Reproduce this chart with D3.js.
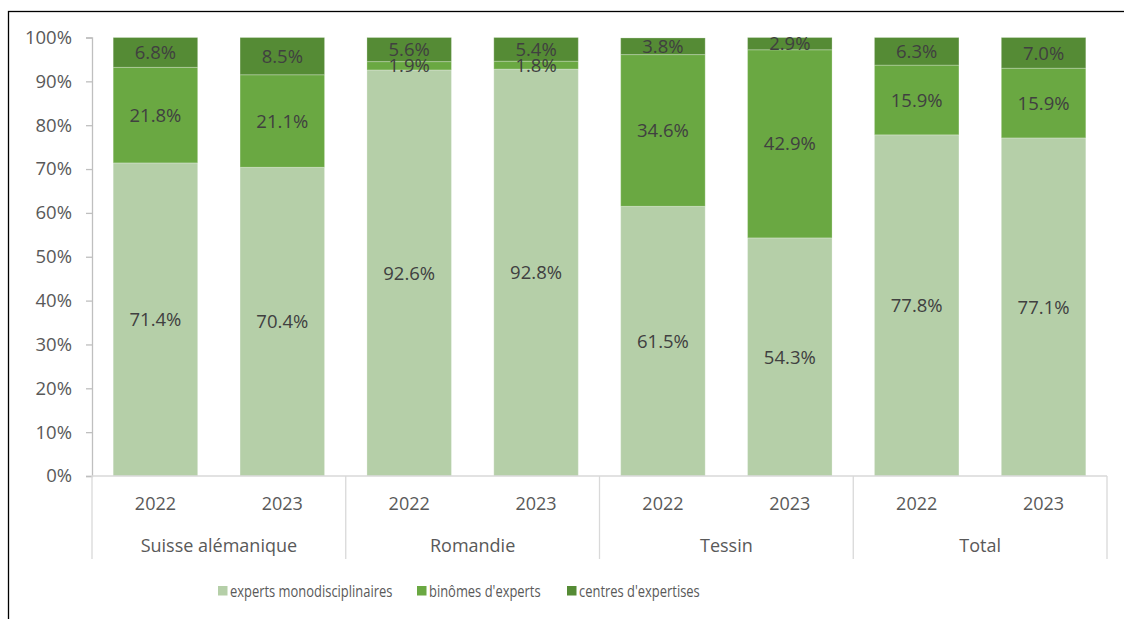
<!DOCTYPE html>
<html><head><meta charset="utf-8">
<script src="https://cdn.jsdelivr.net/npm/d3@7"></script>
<style>body{margin:0;background:#fff;font-family:"Open Sans",sans-serif;}</style>
</head><body><svg id="c" width="1124" height="619"></svg>
<script>
const groups = ["Suisse alémanique","Romandie","Tessin","Total"];
const years = ["2022","2023"];
const seriesNames = ["experts monodisciplinaires","binômes d'experts","centres d'expertises"];
const mono = [71.4,70.4,92.6,92.8,61.5,54.3,77.8,77.1];
const binomes = [21.8,21.1,1.9,1.8,34.6,42.9,15.9,15.9];
const centres = [6.8,8.5,5.6,5.4,3.8,2.9,6.3,7.0];
const yTicks = [0,10,20,30,40,50,60,70,80,90,100];
const colors = ["#b5cfa8","#6aa842","#558b35"];

const svg = d3.select("#c");
svg.append("rect").attr("x",8.5).attr("y",11.5).attr("width",1130).attr("height",620)
  .attr("fill","none").attr("stroke","#000").attr("stroke-width",1.3);

const cats = [];
groups.forEach((g,gi)=>years.forEach((y,yi)=>cats.push({id:g+"|"+y,g,y,i:gi*2+yi})));
const rows = cats.map((c,i)=>({cat:c.id, mono:mono[i], bin:binomes[i], cen:centres[i]}));

const x0=92,x1=1107,yB=476,yT=37.5;
const p=0.334;
const x = d3.scaleBand().domain(cats.map(c=>c.id)).range([x0,x1]).paddingInner(p).paddingOuter(p/2);
const y = d3.scaleLinear().domain([0,100]).range([yB,yT]);

// y axis
const yAxis = svg.append("g").attr("transform",`translate(${x0},0)`)
  .call(d3.axisLeft(y).tickValues(yTicks).tickFormat(d=>d+"%").tickSize(6).tickPadding(14));
yAxis.select(".domain").attr("stroke","#bfbfbf").attr("stroke-width",1.3);
yAxis.selectAll(".tick line").attr("stroke","#bfbfbf").attr("stroke-width",1.3);
yAxis.selectAll(".tick text").attr("fill","#595959").style("font-size","18.5px").style("font-family","Open Sans");

const stack = d3.stack().keys(["mono","bin","cen"]);
const st = stack(rows);
const gBars = svg.append("g");
st.forEach((layer,li)=>{
  gBars.selectAll(null).data(layer).enter().append("rect")
    .attr("x",d=>x(d.data.cat)).attr("width",x.bandwidth())
    .attr("y",d=>y(Math.min(100,d[1]))).attr("height",d=>y(d[0])-y(Math.min(100,d[1])))
    .attr("fill",colors[li]).attr("stroke","rgba(255,255,255,0.25)").attr("stroke-width",1);
});
st.forEach((layer,li)=>{
  gBars.selectAll(null).data(layer).enter().append("text")
    .attr("x",d=>x(d.data.cat)+x.bandwidth()/2)
    .attr("y",d=>(y(d[0])+y(Math.min(100,d[1])))/2)
    .attr("dy","0.36em").attr("text-anchor","middle")
    .attr("fill","#404040").style("font-size","18.5px")
    .text(d=>(d[1]-d[0]).toFixed(1)+"%");
});

// x axis
svg.append("line").attr("x1",x0).attr("x2",x1).attr("y1",yB).attr("y2",yB)
  .attr("stroke","#d9d9d9").attr("stroke-width",1.5);
const gw=(x1-x0)/groups.length;
d3.range(groups.length+1).forEach(i=>{
  svg.append("line").attr("x1",x0+i*gw).attr("x2",x0+i*gw).attr("y1",yB).attr("y2",559)
    .attr("stroke","#d9d9d9").attr("stroke-width",1.3);
});
svg.selectAll(null).data(cats).enter().append("text")
  .attr("x",d=>x(d.id)+x.bandwidth()/2).attr("y",504).attr("dy","0.36em")
  .attr("text-anchor","middle").attr("fill","#595959").style("font-size","18px").text(d=>d.y);
svg.selectAll(null).data(groups).enter().append("text")
  .attr("x",(d,i)=>x0+(i+0.5)*gw).attr("y",546).attr("dy","0.36em")
  .attr("text-anchor","middle").attr("fill","#595959").style("font-size","18px").text(d=>d);

// legend
const legX=[218,417,567];
const leg = svg.append("g");
seriesNames.forEach((n,i)=>{
  leg.append("rect").attr("x",legX[i]).attr("y",586).attr("width",9.5).attr("height",9.5).attr("fill",colors[i]);
  leg.append("g").attr("transform",`translate(${legX[i]+12},591) scale(0.835,1)`)
    .append("text").attr("dy","0.36em")
    .attr("fill","#595959").style("font-size","15.5px").text(n);
});
</script></body></html>
